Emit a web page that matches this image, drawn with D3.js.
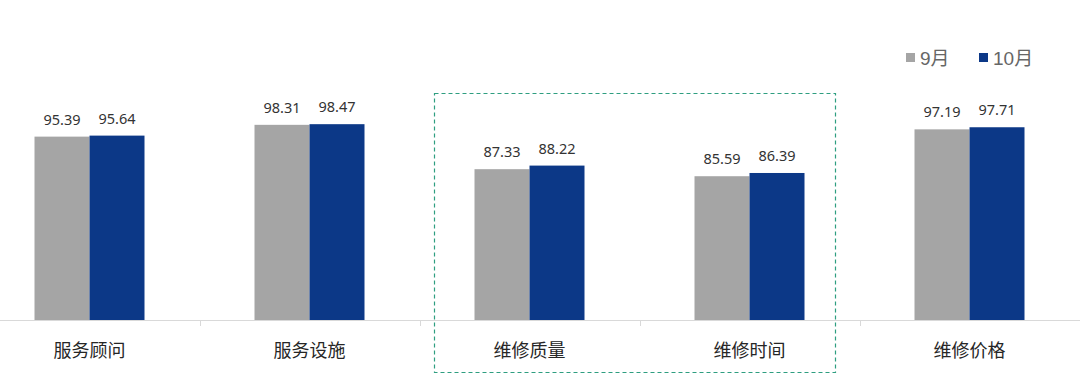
<!DOCTYPE html>
<html>
<head>
<meta charset="utf-8">
<script src="https://cdn.jsdelivr.net/npm/d3@7"></script>
<style>
  body { margin: 0; background: #fff; }
  svg { display: block; }
  .cat { font-family: "Noto Sans CJK SC", sans-serif; font-size: 18px; fill: #262626; }
  .val { font-family: "Noto Sans", "Open Sans", sans-serif; font-size: 14.5px; fill: #333; }
  .leg { font-family: "Liberation Sans", "Noto Sans CJK SC", sans-serif; font-size: 19px; fill: #666; }
</style>
</head>
<body>
<svg id="chart" width="1080" height="392"></svg>
<script>
var categories = ["服务顾问", "服务设施", "维修质量", "维修时间", "维修价格"];
var seriesNames = ["9月", "10月"];
var sep = [95.39, 98.31, 87.33, 85.59, 97.19];
var oct = [95.64, 98.47, 88.22, 86.39, 97.71];
var colors = ["#a5a5a5", "#0c3887"];

var width = 1080, height = 392;
var baseY = 320;

var svg = d3.select("#chart");

var xScale = d3.scaleBand()
  .domain(categories)
  .range([-20.5, 1079.5])
  .paddingInner(0.5)
  .paddingOuter(0.25);

var xInner = d3.scaleBand()
  .domain(seriesNames)
  .range([0, xScale.bandwidth()]);

var yScale = d3.scaleLinear()
  .domain([50, 100])
  .range([baseY, 118]);

// band boundaries for tick marks
var step = xScale.step();
var start = xScale(categories[0]) - xScale.paddingOuter() * step;

// axis line
svg.append("line")
  .attr("x1", 0).attr("x2", width)
  .attr("y1", baseY + 0.5).attr("y2", baseY + 0.5)
  .attr("stroke", "#d9d9d9").attr("stroke-width", 1);

svg.selectAll(".tick")
  .data(d3.range(1, categories.length + 1))
  .enter().append("line")
  .attr("x1", function(i){ return Math.round(start + i * step) + 0.5; })
  .attr("x2", function(i){ return Math.round(start + i * step) + 0.5; })
  .attr("y1", baseY)
  .attr("y2", baseY + 6)
  .attr("stroke", "#d9d9d9");

var rows = categories.map(function(c, i){
  return { cat: c, values: [sep[i], oct[i]] };
});

var groups = svg.selectAll(".grp")
  .data(rows)
  .enter().append("g")
  .attr("transform", function(d){ return "translate(" + xScale(d.cat) + ",0)"; });

groups.selectAll("rect")
  .data(function(d){ return d.values.map(function(v, j){ return { name: seriesNames[j], v: v, j: j }; }); })
  .enter().append("rect")
  .attr("x", function(d){ return xInner(d.name); })
  .attr("y", function(d){ return yScale(d.v); })
  .attr("width", xInner.bandwidth())
  .attr("height", function(d){ return baseY - yScale(d.v); })
  .attr("fill", function(d){ return colors[d.j]; });

groups.selectAll(".val")
  .data(function(d){ return d.values.map(function(v, j){ return { name: seriesNames[j], v: v }; }); })
  .enter().append("text")
  .attr("class", "val")
  .attr("x", function(d){ return xInner(d.name) + xInner.bandwidth() / 2; })
  .attr("y", function(d){ return yScale(d.v) - 12; })
  .attr("text-anchor", "middle")
  .text(function(d){ return d3.format(".2f")(d.v); });

// category labels
svg.selectAll(".cat")
  .data(categories)
  .enter().append("text")
  .attr("class", "cat")
  .attr("x", function(d){ return xScale(d) + xScale.bandwidth() / 2; })
  .attr("y", 357)
  .attr("text-anchor", "middle")
  .text(function(d){ return d; });

// highlight box around 维修质量 / 维修时间
svg.append("rect")
  .attr("x", 434.5).attr("y", 93.5)
  .attr("width", 401).attr("height", 279)
  .attr("fill", "none")
  .attr("stroke", "#2e9e80")
  .attr("stroke-width", 1.2)
  .attr("stroke-dasharray", "4,3");

// legend
var legendX = [906, 979];
var legend = svg.selectAll(".legend")
  .data(seriesNames)
  .enter().append("g")
  .attr("transform", function(d, i){ return "translate(" + legendX[i] + ",53)"; });

legend.append("rect")
  .attr("width", 9).attr("height", 9)
  .attr("fill", function(d, i){ return colors[i]; });

legend.append("text")
  .attr("class", "leg")
  .attr("x", 14)
  .attr("y", 12)
  .text(function(d){ return d; });
</script>
</body>
</html>
